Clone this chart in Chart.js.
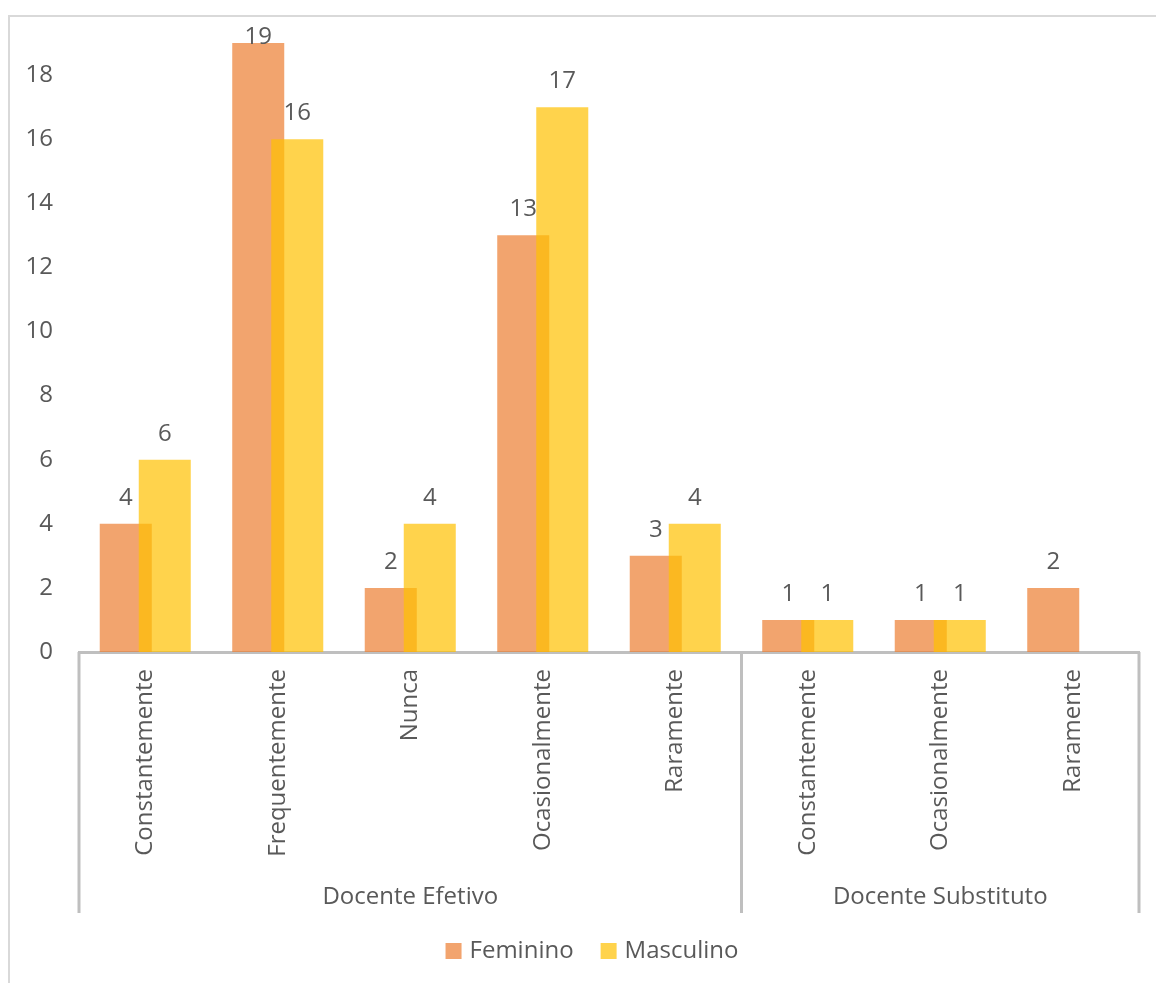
<!DOCTYPE html>
<html>
<head>
<meta charset="utf-8">
<script src="https://cdn.jsdelivr.net/npm/chart.js@4/dist/chart.umd.min.js"></script>
<style>
    body { margin: 0; background: #ffffff; }
    #wrap { position: relative; width: 1156px; height: 983px; }
</style>
</head>
<body>
<div id="wrap"><canvas id="frequencia" width="1156" height="983"></canvas></div>
<script>
// Answers per category, split by teacher type
let CATEGORIES = ['Constantemente', 'Frequentemente', 'Nunca', 'Ocasionalmente', 'Raramente',
                  'Constantemente', 'Ocasionalmente', 'Raramente']
let GROUPS = ['Docente Efetivo', 'Docente Substituto']
let GROUP_SIZES = [5, 3]
let FEMININO = [4, 19, 2, 13, 3, 1, 1, 2]
let MASCULINO = [6, 16, 4, 17, 4, 1, 1, null]
let Y_MAX = 20
let Y_STEP = 2

const TEXT_COLOR = '#595959'
const LINE_COLOR = '#BFBFBF'
const FONT = '"Open Sans", "Noto Sans", sans-serif'

// Masculino has to sit on top of Feminino where they overlap,
// so skip it in the normal pass and paint it afterwards
const overlapOrder = {
    id: 'overlapOrder',
    beforeDatasetDraw(chart, args) {
        if (args.index === 1) return false
    },
    afterDatasetsDraw(chart) {
        chart.getDatasetMeta(1).controller.draw()
    }
}

// Value printed above every bar
const valueLabels = {
    id: 'valueLabels',
    afterDatasetsDraw(chart) {
        const ctx = chart.ctx
        ctx.save()
        ctx.font = '24px ' + FONT
        ctx.fillStyle = TEXT_COLOR
        ctx.textAlign = 'center'
        ctx.textBaseline = 'middle'
        chart.data.datasets.forEach((ds, i) => {
            chart.getDatasetMeta(i).data.forEach((bar, j) => {
                if (ds.data[j] == null) return
                ctx.fillText(ds.data[j], bar.x, Math.max(bar.y - 26, 37))
            })
        })
        ctx.restore()
    }
}

// Outer frame, group dividers, group names and the legend
const decorations = {
    id: 'decorations',
    afterDraw(chart) {
        const ctx = chart.ctx
        const x = chart.scales.x
        const area = chart.chartArea
        const step = x.getPixelForTick(1) - x.getPixelForTick(0)
        const bottom = 913

        ctx.save()
        ctx.strokeStyle = '#D9D9D9'
        ctx.lineWidth = 2
        ctx.strokeRect(9, 16, 1160, 990)

        // dividers between groups
        let edges = [area.left]
        let start = 0
        GROUP_SIZES.forEach((n) => {
            start += n
            edges.push(x.getPixelForTick(start - 1) + step / 2)
        })
        ctx.strokeStyle = LINE_COLOR
        ctx.lineWidth = 3
        edges.forEach((px) => {
            ctx.beginPath()
            ctx.moveTo(px, area.bottom)
            ctx.lineTo(px, bottom)
            ctx.stroke()
        })

        ctx.font = '24px ' + FONT
        ctx.fillStyle = TEXT_COLOR
        ctx.textAlign = 'center'
        ctx.textBaseline = 'middle'
        GROUPS.forEach((g, i) => {
            ctx.fillText(g, (edges[i] + edges[i + 1]) / 2, 897)
        })

        // legend
        const items = chart.data.datasets.map((ds) => ({
            label: ds.label, color: ds.backgroundColor, w: ctx.measureText(ds.label).width
        }))
        const box = 16, gap = 8, spacing = 27
        let total = items.reduce((s, it) => s + box + gap + it.w, 0) + spacing * (items.length - 1)
        let lx = 592 - total / 2
        const ly = 951
        ctx.textAlign = 'left'
        items.forEach((it) => {
            ctx.fillStyle = it.color
            ctx.fillRect(lx, ly - box / 2, box, box)
            ctx.fillStyle = TEXT_COLOR
            ctx.fillText(it.label, lx + box + gap, ly)
            lx += box + gap + it.w + spacing
        })
        ctx.restore()
    }
}

window.onload = () => {
    const canvas = document.getElementById('frequencia').getContext('2d')
    new Chart(canvas, {
        type: 'bar',
        data: {
            labels: CATEGORIES,
            datasets: [{
                label: 'Feminino',
                data: FEMININO,
                backgroundColor: 'rgba(237, 125, 49, 0.7)',
                borderWidth: 0
            }, {
                label: 'Masculino',
                data: MASCULINO,
                backgroundColor: 'rgba(255, 192, 0, 0.7)',
                borderWidth: 0
            }]
        },
        options: {
            responsive: false,
            animation: false,
            categoryPercentage: 0.589,
            barPercentage: 1.333,
            layout: { padding: { left: 0, top: 11, right: 17, bottom: 70 } },
            plugins: {
                legend: { display: false },
                tooltip: { enabled: false }
            },
            scales: {
                x: {
                    grid: { display: false, drawTicks: false },
                    border: { color: LINE_COLOR, width: 3 },
                    ticks: {
                        autoSkip: false,
                        minRotation: 90,
                        maxRotation: 90,
                        padding: 17,
                        color: TEXT_COLOR,
                        font: { family: FONT, size: 24 }
                    },
                    afterFit(scale) { scale.height = 261 }
                },
                y: {
                    min: 0,
                    max: Y_MAX,
                    grid: { display: false, drawTicks: false },
                    border: { display: false },
                    ticks: {
                        stepSize: Y_STEP,
                        padding: 26,
                        color: TEXT_COLOR,
                        font: { family: FONT, size: 24 },
                        callback: (v) => (v >= Y_MAX ? '' : v)
                    },
                    afterFit(scale) {
                        scale.width = 79
                        scale.paddingTop = 0
                        scale.paddingBottom = 0
                    }
                }
            }
        },
        plugins: [overlapOrder, valueLabels, decorations]
    })
}
</script>
</body>
</html>
